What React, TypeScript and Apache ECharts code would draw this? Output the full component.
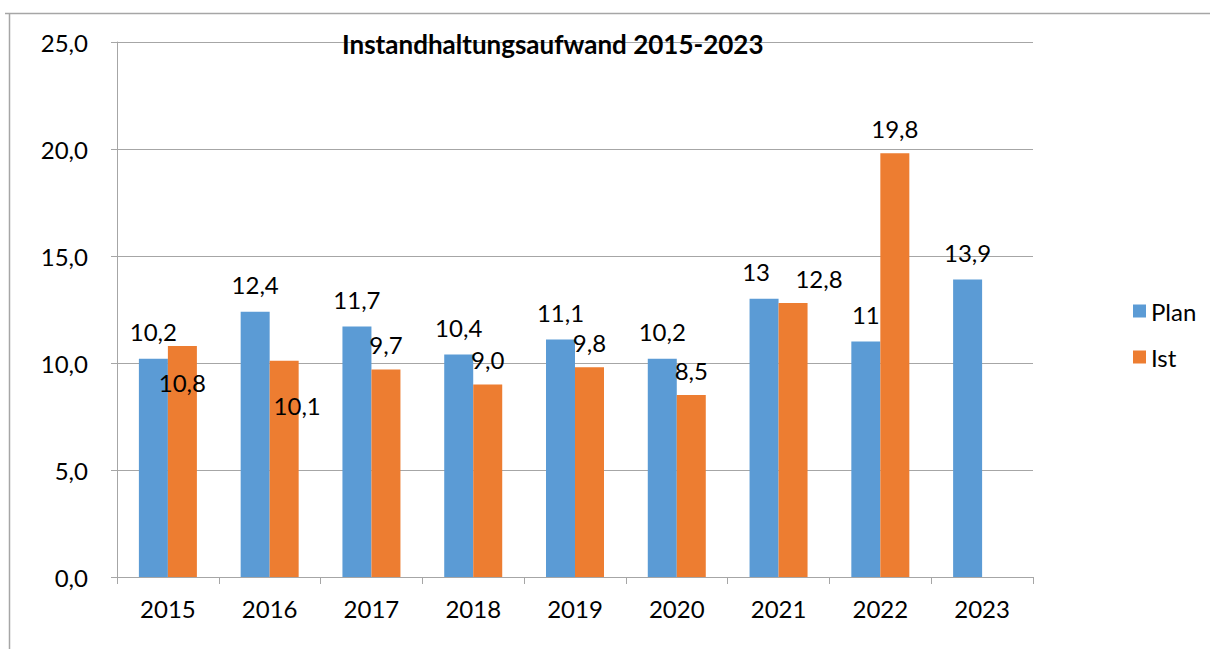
import React, { useEffect, useRef } from "react";
import * as echarts from "echarts";

const years = ["2015", "2016", "2017", "2018", "2019", "2020", "2021", "2022", "2023"];
const planValues = [10.2, 12.4, 11.7, 10.4, 11.1, 10.2, 13, 11, 13.9];
const istValues: (number | null)[] = [10.8, 10.1, 9.7, 9.0, 9.8, 8.5, 12.8, 19.8, null];
const titleText = "Instandhaltungsaufwand 2015-2023";

const FONT = "Lato, 'Open Sans', sans-serif";
const LABEL_SIZE = 24;
const planLabelOffsets: Record<number, [number, number]> = { 6: [-8, 0] };
const istLabelOffsets: Record<number, [number, number]> = { 0: [0, 62], 1: [13, 70], 6: [26, 0] };

const fmtPlan = (v: number) => String(v).replace(".", ",");
const fmtIst = (v: number) => v.toFixed(1).replace(".", ",");

export default function App() {
  const ref = useRef<HTMLDivElement>(null);
  useEffect(() => {
    if (!ref.current) return;
    const chart = echarts.init(ref.current, undefined, { renderer: "svg" });
    const gray = "#a6a6a6";
    const option: any = {
      animation: false,
      backgroundColor: "#ffffff",
      textStyle: { fontFamily: FONT },
      title: {
        text: titleText,
        left: 337,
        top: 26,
        textStyle: { fontFamily: FONT, fontWeight: "bold", fontSize: 26, color: "#000" },
      },
      legend: {
        orient: "vertical",
        left: 1128,
        top: 294,
        itemWidth: 13,
        itemHeight: 13,
        itemGap: 22,
        icon: "rect",
        textStyle: { fontFamily: FONT, fontSize: LABEL_SIZE, color: "#000" },
        data: ["Plan", "Ist"],
      },
      grid: { left: 117, right: 177, top: 42, bottom: 72, containLabel: false },
      xAxis: {
        type: "category",
        data: years,
        axisLine: { lineStyle: { color: gray, width: 1 } },
        axisTick: { show: true, length: 7, lineStyle: { color: gray } },
        axisLabel: { color: "#000", fontSize: LABEL_SIZE, fontFamily: FONT, margin: 19 },
      },
      yAxis: {
        type: "value",
        min: 0,
        max: 25,
        interval: 5,
        axisLine: { show: true, lineStyle: { color: gray, width: 1 } },
        axisTick: { show: true, length: 6, lineStyle: { color: gray } },
        splitLine: { lineStyle: { color: gray, width: 1 } },
        axisLabel: {
          color: "#000",
          fontSize: LABEL_SIZE,
          fontFamily: FONT,
          margin: 29,
          formatter: (v: number) => v.toFixed(1).replace(".", ","),
        },
      },
      series: [
        {
          name: "Plan",
          type: "bar",
          barWidth: 29,
          barGap: "0%",
          itemStyle: { color: "#5b9bd5" },
          label: {
            show: true,
            position: "top",
            distance: 15,
            color: "#000",
            fontSize: LABEL_SIZE,
            fontFamily: FONT,
            formatter: (p: any) => fmtPlan(p.value),
          },
          data: planValues.map((v, i) =>
            planLabelOffsets[i] ? { value: v, label: { offset: planLabelOffsets[i] } } : v
          ),
        },
        {
          name: "Ist",
          type: "bar",
          barWidth: 29,
          barGap: "0%",
          itemStyle: { color: "#ed7d31" },
          label: {
            show: true,
            position: "top",
            distance: 13,
            color: "#000",
            fontSize: LABEL_SIZE,
            fontFamily: FONT,
            formatter: (p: any) => (p.value == null ? "" : fmtIst(p.value)),
          },
          data: istValues.map((v, i) =>
            v != null && istLabelOffsets[i] ? { value: v, label: { offset: istLabelOffsets[i] } } : v == null ? "-" : v
          ),
        },
      ],
      graphic: [
        { type: "line", shape: { x1: 9.5, y1: 13, x2: 9.5, y2: 649 }, style: { stroke: gray, lineWidth: 1.5 }, silent: true },
        { type: "line", shape: { x1: 5, y1: 13.5, x2: 1210, y2: 13.5 }, style: { stroke: gray, lineWidth: 1.5 }, silent: true },
      ],
    };
    chart.setOption(option);
    return () => chart.dispose();
  }, []);
  return (
    <div
      ref={ref}
      style={{ position: "fixed", left: 0, top: 0, width: 1210, height: 649, background: "#fff" }}
    />
  );
}
